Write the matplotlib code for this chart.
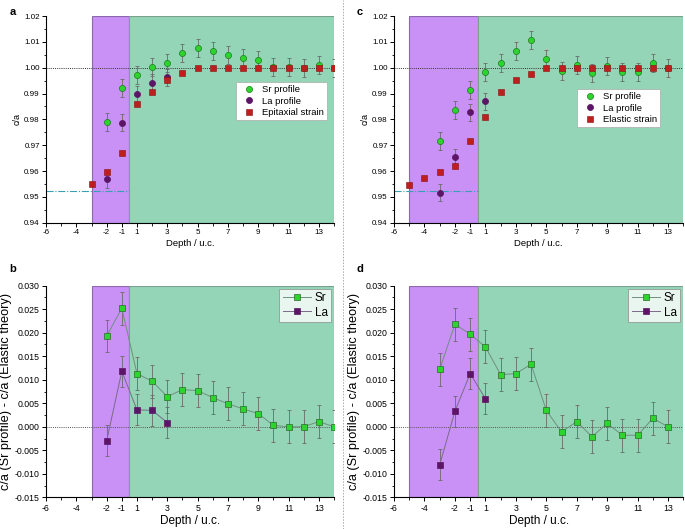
import numpy as np
import matplotlib
matplotlib.use("Agg")
import matplotlib.pyplot as plt
from matplotlib.ticker import MultipleLocator

plt.rcParams["font.family"] = ["Liberation Sans", "DejaVu Sans"]

# depth (u.c.) -- there is no 0 on this axis, -1 is followed by 1
# panel a
A_SR_D = [-2, -1, 1, 2, 3, 4, 5, 6, 7, 8, 9, 10, 11, 12, 13, 14]
A_SR = [0.9790, 0.9920, 0.9972, 1.0004, 1.0018, 1.0057, 1.0077, 1.0063, 1.0049,
        1.0039, 1.0028, 1.0003, 1.0001, 1.0000, 1.0012, 1.0000]
A_LA_D = [-2, -1, 1, 2, 3]
A_LA = [0.9568, 0.9787, 0.9897, 0.9942, 0.9963]
A_EPI_D = [-3, -2, -1, 1, 2, 3, 4, 5, 6, 7, 8, 9, 10, 11, 12, 13, 14]
A_EPI = [0.9551, 0.9597, 0.9670, 0.9859, 0.9907, 0.9952, 0.9978, 1.0, 1.0, 1.0,
         1.0, 1.0, 1.0, 1.0, 1.0, 1.0, 1.0]

# panel c
C_SR_D = [-3, -2, -1, 1, 2, 3, 4, 5, 6, 7, 8, 9, 10, 11, 12, 13]
C_SR = [0.9717, 0.9836, 0.9912, 0.9982, 1.0017, 1.0066, 1.0107, 1.0034, 0.9988,
        1.0009, 0.9978, 1.0006, 0.9983, 0.9983, 1.0017, 1.0000]
C_LA_D = [-3, -2, -1, 1]
C_LA = [0.9516, 0.9653, 0.9828, 0.9871]
C_EL_D = [-5, -4, -3, -2, -1, 1, 2, 3, 4, 5, 6, 7, 8, 9, 10, 11, 12, 13]
C_EL = [0.9547, 0.9572, 0.9596, 0.9621, 0.9716, 0.9810, 0.9905, 0.9952, 0.9977,
        1.0, 1.0, 1.0, 1.0, 1.0, 1.0, 1.0, 1.0, 1.0]

# panel b
B_SR_D = [-2, -1, 1, 2, 3, 4, 5, 6, 7, 8, 9, 10, 11, 12, 13, 14]
B_SR = [0.0193, 0.0252, 0.0113, 0.0097, 0.0064, 0.0079, 0.0077, 0.0062, 0.0049,
        0.0038, 0.0028, 0.0003, 0.0, 0.0, 0.0011, 0.0]
B_LA_D = [-2, -1, 1, 2, 3]
B_LA = [-0.0030, 0.0118, 0.0036, 0.0035, 0.0009]

# panel d
D_SR_D = [-3, -2, -1, 1, 2, 3, 4, 5, 6, 7, 8, 9, 10, 11, 12, 13]
D_SR = [0.0122, 0.0218, 0.0197, 0.0170, 0.0111, 0.0113, 0.0133, 0.0035, -0.0011,
        0.0011, -0.0021, 0.0007, -0.0018, -0.0018, 0.0018, 0.0]
D_LA_D = [-3, -2, -1, 1]
D_LA = [-0.0081, 0.0033, 0.0113, 0.0060]

SR_ERR = 0.0035
LA_ERR = 0.0033

TICK_DEPTHS = [-6, -4, -2, -1, 1, 3, 5, 7, 9, 11, 13]

GREEN_BG = "#95d5b7"
PURPLE_BG = "#c990f6"
SR_COL = "#2ed42e"
LA_COL = "#5c1466"
RED_COL = "#bf1e1e"
ERR_COL = "#6a6a6a"


def pos(depths):
    d = np.asarray(depths, dtype=float)
    return np.where(d < 0, d, d - 1)


def setup_axes(ax, purple_start, ylim, ymajor, yminor, yfmt, ylabel, xl_size, yl_size, tick_size):
    ax.set_xlim(-6, 13)
    ax.set_ylim(*ylim)
    ax.axvspan(purple_start, -0.5, facecolor=PURPLE_BG, edgecolor="#8a6aa8", lw=0.8, zorder=0)
    ax.axvspan(-0.5, 13, facecolor=GREEN_BG, edgecolor="#7aa090", lw=0.8, zorder=0)
    ax.set_xticks(pos(TICK_DEPTHS))
    ax.set_xticklabels([str(t) for t in TICK_DEPTHS])
    ax.set_xticks(np.arange(-6, 13.5, 1), minor=True)
    ax.yaxis.set_major_locator(MultipleLocator(ymajor))
    ax.yaxis.set_minor_locator(MultipleLocator(yminor))
    ax.yaxis.set_major_formatter(plt.FormatStrFormatter(yfmt))
    for s in ["top", "right"]:
        ax.spines[s].set_visible(False)
    for s in ["left", "bottom"]:
        ax.spines[s].set_linewidth(0.8)
    ax.tick_params(which="major", direction="out", length=3, width=0.7, labelsize=tick_size, pad=1.5)
    ax.tick_params(which="minor", direction="out", length=1.8, width=0.6)
    ax.set_xlabel("Depth / u.c.", fontsize=xl_size, labelpad=2)
    ax.set_ylabel(ylabel, fontsize=yl_size, labelpad=2)


def top_panel(ax, sr_d, sr, la_d, la, red_d, red, red_label, purple_start):
    setup_axes(ax, purple_start, (0.94, 1.02), 0.01, 0.005, "%.2f", "c/a", 6.8, 6.5, 5.8)
    ax.axhline(1.0, color="#333333", lw=0.7, ls=(0, (1, 1.2)), zorder=1)
    ax.plot([-6, -0.5], [0.9524, 0.9524], color="#3a9fb4", lw=0.8, ls="-.", zorder=1)
    ax.errorbar(pos(sr_d), sr, yerr=SR_ERR, fmt="none", ecolor=ERR_COL, elinewidth=0.6,
                capsize=1.5, capthick=0.6, zorder=2)
    ax.errorbar(pos(la_d), la, yerr=LA_ERR, fmt="none", ecolor=ERR_COL, elinewidth=0.6,
                capsize=1.5, capthick=0.6, zorder=2)
    ax.plot(pos(sr_d), sr, "o", ms=4.4, mfc=SR_COL, mec="#1b7a1b", mew=0.5, ls="none",
            label="Sr profile", zorder=3)
    ax.plot(pos(la_d), la, "o", ms=4.4, mfc=LA_COL, mec=LA_COL, mew=0.5, ls="none",
            label="La profile", zorder=3)
    ax.plot(pos(red_d), red, "s", ms=3.9, mfc=RED_COL, mec="#8a1010", mew=0.4, ls="none",
            label=red_label, zorder=4)


def bottom_panel(ax, sr_d, sr, la_d, la, purple_start):
    setup_axes(ax, purple_start, (-0.015, 0.030), 0.005, 0.0025, "%.3f",
               "c/a (Sr profile) - c/a (Elastic theory)", 8.5, 9.2, 6.3)
    ax.axhline(0.0, color="#555555", lw=0.7, ls=(0, (1, 1.2)), zorder=1)
    ax.errorbar(pos(sr_d), sr, yerr=SR_ERR, fmt="none", ecolor=ERR_COL, elinewidth=0.6,
                capsize=1.5, capthick=0.6, zorder=2)
    ax.errorbar(pos(la_d), la, yerr=LA_ERR, fmt="none", ecolor=ERR_COL, elinewidth=0.6,
                capsize=1.5, capthick=0.6, zorder=2)
    ax.plot(pos(sr_d), sr, "-s", color="#6f8f7f", lw=0.7, ms=4.3, mfc=SR_COL, mec="#2a6a2a",
            mew=0.5, label="Sr", zorder=3)
    ax.plot(pos(la_d), la, "-s", color="#7a6a88", lw=0.7, ms=4.3, mfc=LA_COL, mec=LA_COL,
            mew=0.5, label="La", zorder=3)
    leg = ax.legend(loc="upper right", fontsize=8.5, frameon=True, fancybox=False,
                    handlelength=2.4, handletextpad=0.3, borderpad=0.3, labelspacing=0.2,
                    borderaxespad=0.25)
    leg.get_frame().set_edgecolor("#888888")
    leg.get_frame().set_linewidth(0.6)


fig = plt.figure(figsize=(6.85, 5.29), dpi=100)
ax_a = fig.add_axes([0.0672, 0.579, 0.4204, 0.3907])
ax_c = fig.add_axes([0.5752, 0.579, 0.4224, 0.3907])
ax_b = fig.add_axes([0.0672, 0.0599, 0.4204, 0.400])
ax_d = fig.add_axes([0.5752, 0.0599, 0.4224, 0.400])

top_panel(ax_a, A_SR_D, A_SR, A_LA_D, A_LA, A_EPI_D, A_EPI, "Epitaxial strain", -3)
top_panel(ax_c, C_SR_D, C_SR, C_LA_D, C_LA, C_EL_D, C_EL, "Elastic strain", -5)
bottom_panel(ax_b, B_SR_D, B_SR, B_LA_D, B_LA, -3)
bottom_panel(ax_d, D_SR_D, D_SR, D_LA_D, D_LA, -5)

for ax, anchor in [(ax_a, (0.976, 0.681)), (ax_c, (0.92, 0.647))]:
    leg = ax.legend(loc="upper right", bbox_to_anchor=anchor, fontsize=6.8, frameon=True,
                    fancybox=False, handletextpad=0.4, borderpad=0.35, labelspacing=0.25,
                    borderaxespad=0, framealpha=1)
    leg.get_frame().set_edgecolor("#aaaaaa")
    leg.get_frame().set_linewidth(0.5)

for label, x, y in [("a", 0.014, 0.978), ("c", 0.52, 0.978), ("b", 0.014, 0.492), ("d", 0.52, 0.492)]:
    fig.text(x, y, label, fontsize=8, fontweight="bold", ha="left", va="center")

fig.add_artist(plt.Line2D([0.5, 0.5], [0.0, 1.0], color="#aaaaaa", lw=0.7, ls=(0, (1.5, 1.5))))

fig.savefig("out.png", dpi=100)
